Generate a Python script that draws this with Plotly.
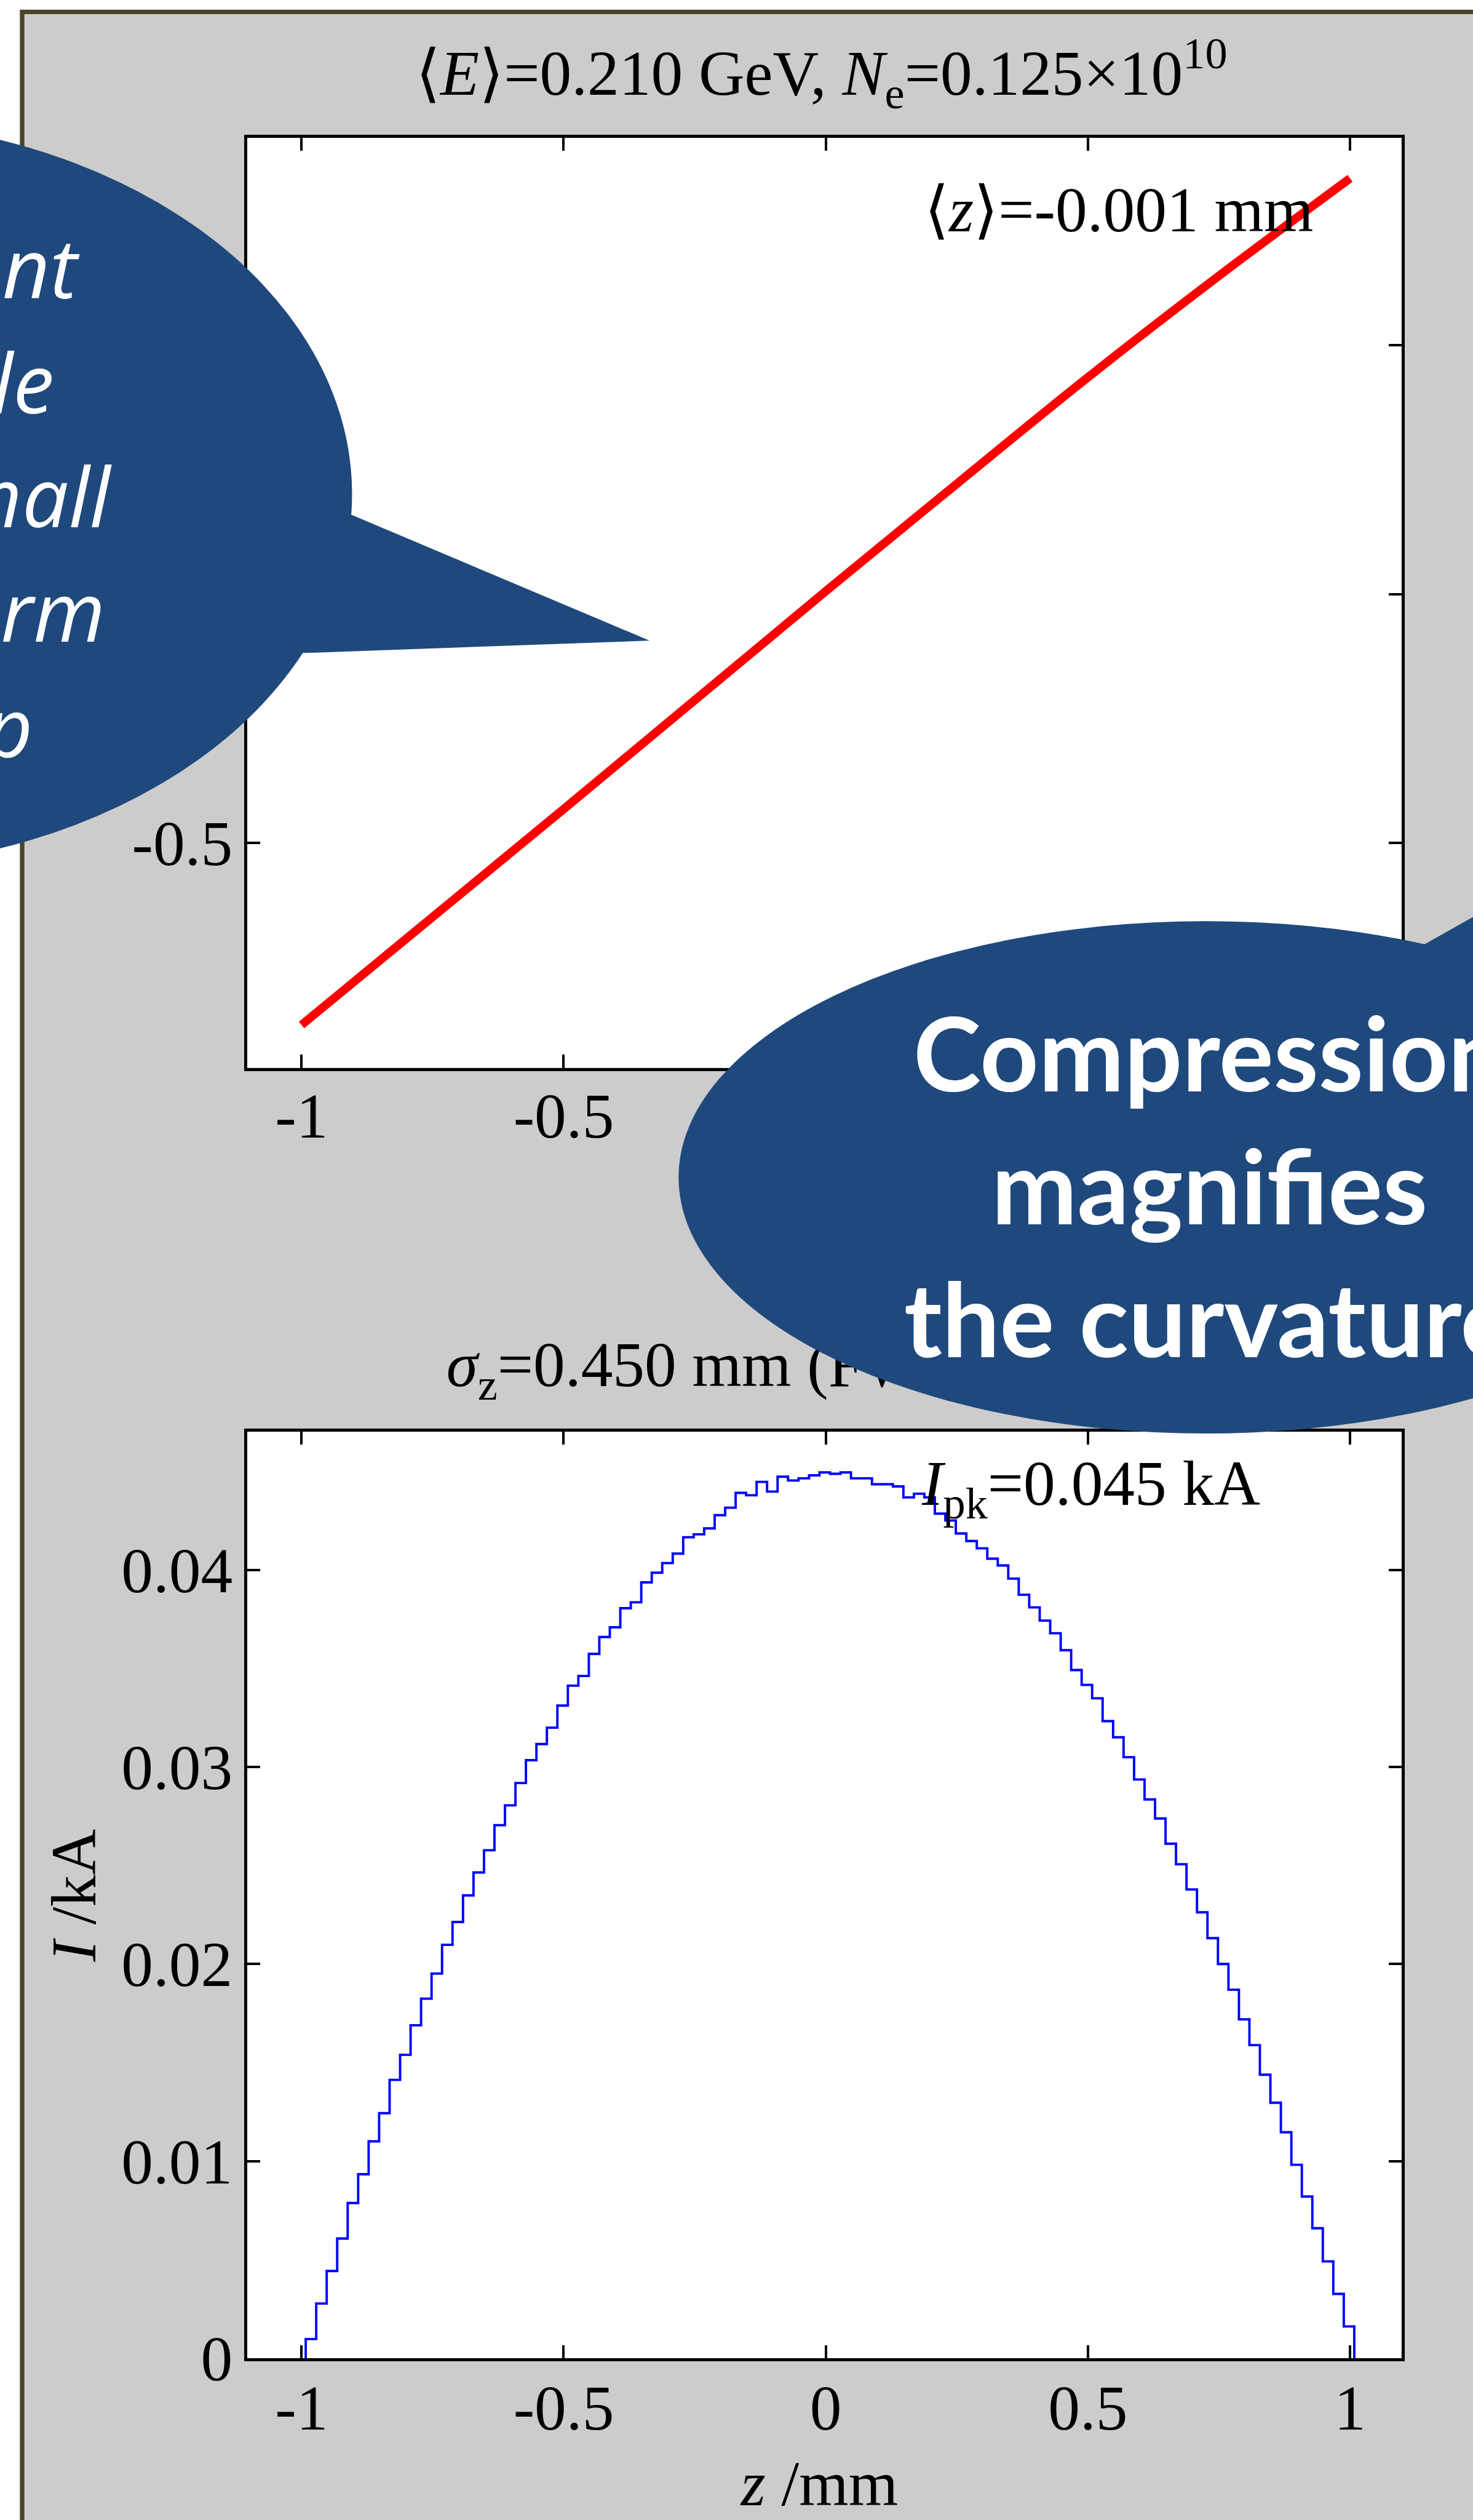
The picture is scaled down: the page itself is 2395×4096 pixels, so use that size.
import numpy as np
import plotly.graph_objects as go

# ---------------------------------------------------------------- data
# Longitudinal phase space: centre line of the particle band
phase_z_mm = [-1.0, -0.5, 0.0, 0.25, 0.5, 0.75, 1.0]
phase_y = [-0.866, -0.432, 0.006, 0.222, 0.436, 0.640, 0.836]

# Current profile: 100 bins of 0.02 mm
bin_start_mm = -0.992
bin_width_mm = 0.02
current_kA = [
    0.00097, 0.00277, 0.00442, 0.00607, 0.00787, 0.00933, 0.01100, 0.01243, 0.01412, 0.01539,
    0.01689, 0.01824, 0.01951, 0.02097, 0.02213, 0.02348, 0.02464, 0.02577, 0.02704, 0.02805,
    0.02918, 0.03034, 0.03116, 0.03199, 0.03311, 0.03412, 0.03461, 0.03573, 0.03659, 0.03708,
    0.03805, 0.03835, 0.03936, 0.03985, 0.04034, 0.04082, 0.04165, 0.04180, 0.04210, 0.04277,
    0.04315, 0.04390, 0.04378, 0.04446, 0.04397, 0.04472, 0.04453, 0.04464, 0.04479, 0.04494,
    0.04487, 0.04494, 0.04464, 0.04464, 0.04434, 0.04434, 0.04423, 0.04367, 0.04386, 0.04367,
    0.04285, 0.04250, 0.04184, 0.04146, 0.04109, 0.04056, 0.04022, 0.03955, 0.03873, 0.03809,
    0.03742, 0.03678, 0.03592, 0.03491, 0.03416, 0.03348, 0.03232, 0.03150, 0.03049, 0.02936,
    0.02835, 0.02738, 0.02610, 0.02506, 0.02378, 0.02262, 0.02131, 0.02000, 0.01869, 0.01719,
    0.01588, 0.01438, 0.01296, 0.01146, 0.00981, 0.00820, 0.00659, 0.00491, 0.00326, 0.00161,
]

z_tickvals = [-1, -0.5, 0, 0.5, 1]
z_ticktext = ["-1", "-0.5", "0", "0.5", "1"]
phase_tickvals = [-0.5, 0, 0.5]
phase_ticktext = ["-0.5", "0", "0.5"]
current_tickvals = [0, 0.01, 0.02, 0.03, 0.04]
current_ticktext = ["0", "0.01", "0.02", "0.03", "0.04"]

top_title = "⟨<i>E</i>⟩=0.210 GeV, <i>N</i><sub>e</sub>=0.125×10<sup>10</sup>"
mean_z_text = "⟨<i>z</i>⟩=-0.001 mm"
bottom_title = "<i>σ</i><sub>z</sub>=0.450 mm (FWHM=1.41 mm)"
peak_text = "<i>I</i><sub>pk</sub>=0.045 kA"
z_label = "<i>z</i> /mm"
current_label = "<i>I</i> /kA"

left_callout_lines = [
    "Curvature is present",
    "but barely visible",
    "because it is small",
    "next to the linear term",
    "in the energy chirp",
]
right_callout_text = "Compression<br>magnifies<br>the curvature"

# ---------------------------------------------------------------- geometry helpers
W, H = 2395, 4096
BASE_W, BASE_H = 2594, 4437
S = W / BASE_W


def fx(p):
    return p / BASE_W


def fy(p):
    return 1 - p / BASE_H


def fs(p):
    return p * S


SERIF = "Liberation Serif, Times New Roman, serif"
CALLOUT_BLUE = "#1F497D"
serif_size = fs(112)

PLOT_L, PLOT_R = 435, 2468
TOP_T, TOP_B = 243, 1880
BOT_T, BOT_B = 2521, 4152
z_range = [-1.104, 1.098]
phase_range = [-0.952, 0.917]
current_range = [0, 0.047]

# ---------------------------------------------------------------- traces
edges = bin_start_mm + bin_width_mm * np.arange(len(current_kA) + 1)
stairs_x = np.concatenate([[edges[0]], edges])
stairs_y = np.concatenate([[0.0], current_kA, [0.0]])

fig = go.Figure()
fig.add_trace(go.Scatter(
    x=phase_z_mm, y=phase_y, mode="lines",
    line=dict(color="#FF0000", width=fs(15), shape="spline", smoothing=1.0),
    xaxis="x", yaxis="y", hoverinfo="skip",
))
fig.add_trace(go.Scatter(
    x=stairs_x, y=stairs_y, mode="lines",
    line=dict(color="#0000FF", width=fs(4.2), shape="hv"),
    xaxis="x2", yaxis="y2", hoverinfo="skip",
))

# Texts that sit outside both plot areas (one of them partly under a callout)
# are placed on a page-sized helper axis measured in layout pixels.
page_texts = [
    (bottom_title, 786, 2413, "middle right"),
    (z_label, 1443, 4383, "middle center"),
]
fig.add_trace(go.Scatter(
    x=[t[1] for t in page_texts], y=[t[2] for t in page_texts],
    text=[t[0] for t in page_texts], textposition=[t[3] for t in page_texts],
    mode="text", cliponaxis=False,
    textfont=dict(family=SERIF, size=serif_size, color="black"),
    xaxis="x3", yaxis="y3", hoverinfo="skip",
))

# ---------------------------------------------------------------- axes
def axis_style(**kw):
    d = dict(
        showline=True, linecolor="black", linewidth=fs(5), mirror="ticks",
        ticks="inside", ticklen=fs(23), tickwidth=fs(4), tickcolor="black",
        showgrid=False, zeroline=False, fixedrange=True, automargin=False,
        tickfont=dict(family=SERIF, size=serif_size, color="black"),
    )
    d.update(kw)
    return d


hidden_page_axis = dict(domain=[0, 1], visible=False, showgrid=False, zeroline=False,
                        fixedrange=True, automargin=False)

fig.update_layout(
    xaxis=axis_style(domain=[fx(PLOT_L), fx(PLOT_R)], range=z_range, anchor="y",
                     tickmode="array", tickvals=z_tickvals, ticktext=z_ticktext,
                     ticklabelstandoff=-15),
    yaxis=axis_style(domain=[fy(TOP_B), fy(TOP_T)], range=phase_range, anchor="x",
                     tickmode="array", tickvals=phase_tickvals, ticktext=phase_ticktext,
                     ticklabelstandoff=-2),
    xaxis2=axis_style(domain=[fx(PLOT_L), fx(PLOT_R)], range=z_range, anchor="y2",
                      tickmode="array", tickvals=z_tickvals, ticktext=z_ticktext,
                      ticklabelstandoff=-13),
    yaxis2=axis_style(domain=[fy(BOT_B), fy(BOT_T)], range=current_range, anchor="x2",
                      tickmode="array", tickvals=current_tickvals, ticktext=current_ticktext,
                      ticklabelstandoff=-2),
    xaxis3=dict(hidden_page_axis, range=[0, BASE_W], anchor="y3"),
    yaxis3=dict(hidden_page_axis, range=[BASE_H, 0], anchor="x3"),
)

# ---------------------------------------------------------------- background
shapes = [
    # grey panel with dark frame
    dict(type="rect", xref="paper", yref="paper", layer="below",
         x0=fx(39), x1=fx(2800), y0=fy(21), y1=fy(4700),
         line=dict(color="#4A452A", width=fs(8)), fillcolor="#CCCCCC"),
    # white plot areas
    dict(type="rect", xref="x domain", yref="y domain", layer="below",
         x0=0, x1=1, y0=0, y1=1, line=dict(width=0), fillcolor="white"),
    dict(type="rect", xref="x2 domain", yref="y2 domain", layer="below",
         x0=0, x1=1, y0=0, y1=1, line=dict(width=0), fillcolor="white"),
]


# ---------------------------------------------------------------- callouts
def ellipse(cx, cy, a, b):
    return dict(type="circle", xref="paper", yref="paper", layer="above",
                x0=fx(cx - a), x1=fx(cx + a), y0=fy(cy - b), y1=fy(cy + b),
                line=dict(width=0), fillcolor=CALLOUT_BLUE)


def wedge(points):
    path = "M " + " L ".join(f"{fx(px):.5f},{fy(py):.5f}" for px, py in points) + " Z"
    return dict(type="path", xref="paper", yref="paper", layer="above", path=path,
                line=dict(width=0), fillcolor=CALLOUT_BLUE)


shapes += [
    ellipse(-300, 870, 920, 660),
    wedge([(592, 895), (1144, 1128), (500, 1151)]),
    ellipse(2124, 2073, 929, 451),
    wedge([(2483, 1677), (2849, 1471), (3000, 2000)]),
]
fig.update_layout(shapes=shapes)

# ---------------------------------------------------------------- annotations
ann = []


def serif_note(text, x, y, xanchor="center", yanchor="middle", angle=0):
    ann.append(dict(text=text, xref="paper", yref="paper", x=fx(x), y=fy(y),
                    xanchor=xanchor, yanchor=yanchor, showarrow=False, textangle=angle,
                    font=dict(family=SERIF, size=serif_size, color="black")))


serif_note(top_title, 1447, 129)
serif_note(mean_z_text, 1626, 369, xanchor="left")
serif_note(peak_text, 1620, 2620, xanchor="left")
serif_note(current_label, 130, 3338, angle=-90)

left_right_ends = [143, 98, 199, 187, 60]
left_baselines = [521, 724, 924, 1126, 1329]
left_size = 145
for line, xr, yb in zip(left_callout_lines, left_right_ends, left_baselines):
    ann.append(dict(text=line, xref="paper", yref="paper", x=fx(xr), y=fy(yb - 0.36 * left_size),
                    xanchor="right", yanchor="middle", showarrow=False,
                    font=dict(family="Open Sans", size=fs(left_size), color="white",
                              style="italic")))

ann.append(dict(text=right_callout_text, xref="paper", yref="paper", x=fx(2130), y=fy(2086),
                xanchor="center", yanchor="middle", align="center", showarrow=False,
                font=dict(family="Lato", size=fs(180), color="white", weight="bold")))

fig.update_layout(
    annotations=ann,
    width=W, height=H, autosize=False,
    margin=dict(l=0, r=0, t=0, b=0, pad=0, autoexpand=False),
    paper_bgcolor="white", plot_bgcolor="rgba(0,0,0,0)",
    showlegend=False,
)

fig.write_html("out.html")
